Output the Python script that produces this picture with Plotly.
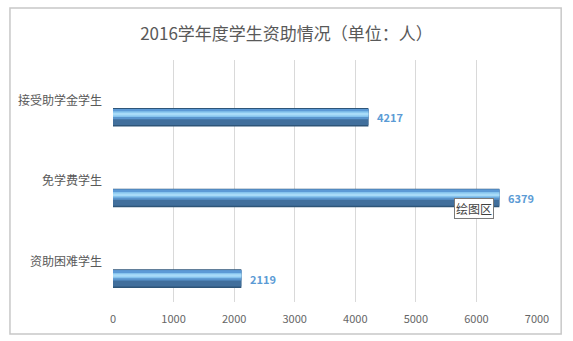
import plotly.graph_objects as go

categories = ["资助困难学生", "免学费学生", "接受助学金学生"]
values = [2119, 6379, 4217]
x_ticks = [0, 1000, 2000, 3000, 4000, 5000, 6000, 7000]
title_text = "2016学年度学生资助情况（单位：人）"

FONT = "Noto Sans CJK SC"
W = 0.23      # bar thickness (category units)
OFF = -0.325  # bar start relative to category centre

fig = go.Figure()

# layered bars to imitate the bevelled look
layers = [
    (0.00, 1.00, "#2e5578"),
    (0.08, 0.87, "#416f9c"),
    (0.40, 0.55, "#5a95cd"),
    (0.52, 0.30, "#86c4ee"),
    (0.60, 0.14, "#a8dbf8"),
    (0.85, 0.10, "#5c9ad6"),
]
for start, frac, col in layers:
    fig.add_trace(go.Bar(
        y=categories, x=values, orientation="h",
        width=W * frac, offset=OFF + W * start,
        marker=dict(color=col, line=dict(width=0)),
        hoverinfo="skip", showlegend=False,
    ))

# value labels
for c, v in zip(categories, values):
    fig.add_annotation(
        x=v, y=c, text=f"<b>{v}</b>", showarrow=False,
        xanchor="left", xshift=7, yshift=-17,
        font=dict(family=FONT, size=11, color="#5b9bd5"),
    )

fig.add_annotation(
    x=6379, y="免学费学生", text="绘图区", showarrow=False,
    xanchor="right", xshift=-5, yshift=-27,
    font=dict(family=FONT, size=12, color="#404040"),
    bgcolor="#ffffff", bordercolor="#7a7a7a", borderwidth=1, borderpad=1,
)

fig.update_layout(
    width=573, height=341,
    margin=dict(l=113, r=36, t=60, b=39),
    paper_bgcolor="white", plot_bgcolor="white",
    barmode="overlay",
    title=dict(text=title_text, x=0.5, xanchor="center", y=0.9, yanchor="middle",
               font=dict(family=FONT, size=17, color="#595959")),
    xaxis=dict(range=[0, 7000], tickvals=x_ticks, showgrid=True,
               gridcolor="#d9d9d9", gridwidth=1, zeroline=False,
               showline=False, ticks="", ticklabelstandoff=9,
               tickfont=dict(family=FONT, size=11, color="#666666")),
    yaxis=dict(type="category", categoryorder="array", categoryarray=categories,
               range=[-0.5, 2.5], showgrid=False, zeroline=False, showline=False,
               ticks="", ticklabelstandoff=10,
               tickfont=dict(family=FONT, size=12, color="#595959")),
    shapes=[dict(type="rect", xref="paper", yref="paper",
                 x0=-0.243, x1=1.057, y0=-0.132, y1=1.215,
                 line=dict(color="#c8c8c8", width=1.5))],
)

fig.write_html("out.html")
